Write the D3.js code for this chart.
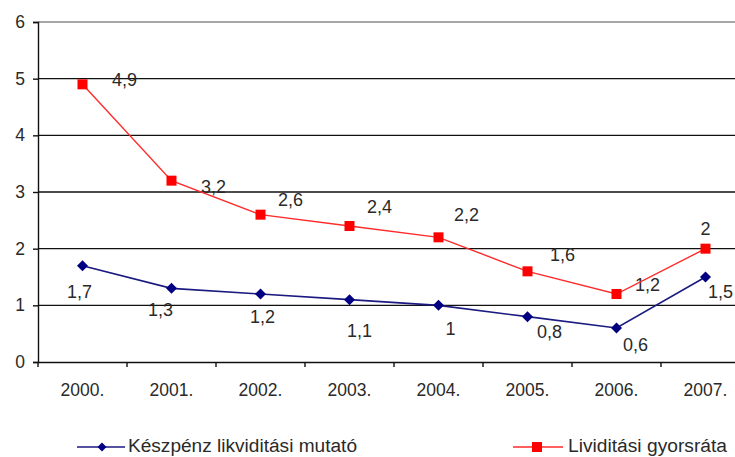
<!DOCTYPE html>
<html><head><meta charset="utf-8">
<script src="https://cdn.jsdelivr.net/npm/d3@7"></script>
<style>body{margin:0;background:#fff}svg{display:block;font-family:"Liberation Sans",Arial,sans-serif}</style>
</head><body>
<svg id="c" width="735" height="457"></svg>
<script>
const years = ["2000.","2001.","2002.","2003.","2004.","2005.","2006.","2007."];
const keszpenz = [1.7,1.3,1.2,1.1,1,0.8,0.6,1.5];
const gyorsrata = [4.9,3.2,2.6,2.4,2.2,1.6,1.2,2];
const yTicks = [0,1,2,3,4,5,6];
const seriesNames = ["Készpénz likviditási mutató","Lividitási gyorsráta"];
// label offsets (px) of the label centre relative to the point, as placed in the original
const blueLabelOff = [[-3,26],[-11,21],[2,23],[10,31],[12,23],[22,15],[19,17],[15,15]];
const redLabelOff = [[42,-5],[42,6],[30,-15],[30,-19],[28,-23],[35,-17],[31,-9],[0,-20]];

const FONT = "Liberation Sans, Arial, sans-serif";
const TXT = "#2a2a2a";
const svg = d3.select("#c");
const x = d3.scaleBand().domain(years).range([38,750]);
const y = d3.scaleLinear().domain([0,6]).range([362,22]);
const fmt = v => String(v).replace(".",",");

// gridlines
svg.append("g").selectAll("line").data(yTicks.filter(t=>t>0)).join("line")
  .attr("x1",38).attr("x2",750).attr("y1",d=>y(d)).attr("y2",d=>y(d))
  .attr("stroke",d=>d===6?"#8a8a8a":"#111").attr("stroke-width",1.4);

// y axis
const ya = svg.append("g").attr("transform","translate(38,0)")
  .call(d3.axisLeft(y).tickValues(yTicks).tickSize(5).tickPadding(8).tickFormat(d=>d));
ya.attr("font-size",null).attr("font-family",null);
ya.select(".domain").attr("stroke","#111").attr("stroke-width",1.4);
ya.selectAll(".tick line").attr("stroke","#111").attr("stroke-width",1.4);
ya.selectAll("text").style("font-size","17.5px").style("font-family",FONT).attr("fill",TXT);

// x axis
const xa = svg.append("g").attr("transform","translate(0,362)")
  .call(d3.axisBottom(x).tickSize(0).tickPadding(22));
xa.attr("font-size",null).attr("font-family",null);
xa.select(".domain").attr("stroke","#111").attr("stroke-width",1.4);
xa.selectAll("text").style("font-size","17.5px").style("font-family",FONT).attr("fill",TXT);
xa.append("g").selectAll("line").data(d3.range(years.length+1)).join("line")
  .attr("x1",i=>38+i*x.bandwidth()).attr("x2",i=>38+i*x.bandwidth())
  .attr("y1",0).attr("y2",5).attr("stroke","#111").attr("stroke-width",1.4);

const cx = d => x(d)+x.bandwidth()/2;
const line = d3.line().x(d=>cx(d[0])).y(d=>y(d[1]));
const bData = years.map((yr,i)=>[yr,keszpenz[i]]);
const rData = years.map((yr,i)=>[yr,gyorsrata[i]]);

// labels (under the lines, as in the original)
svg.append("g").selectAll("text").data(bData).join("text")
  .attr("x",(d,i)=>cx(d[0])+blueLabelOff[i][0]).attr("y",(d,i)=>y(d[1])+blueLabelOff[i][1])
  .attr("dy","0.36em").attr("text-anchor","middle").style("font-size","18px").attr("fill",TXT).text(d=>fmt(d[1]));
svg.append("g").selectAll("text").data(rData).join("text")
  .attr("x",(d,i)=>cx(d[0])+redLabelOff[i][0]).attr("y",(d,i)=>y(d[1])+redLabelOff[i][1])
  .attr("dy","0.36em").attr("text-anchor","middle").style("font-size","18px").attr("fill",TXT).text(d=>fmt(d[1]));

const diamond = (cxp,cyp,r) => `M${cxp},${cyp-r}L${cxp+r},${cyp}L${cxp},${cyp+r}L${cxp-r},${cyp}Z`;

// blue series
svg.append("path").attr("d",line(bData)).attr("fill","none").attr("stroke","#1a1a80").attr("stroke-width",1.6);
svg.append("g").selectAll("path").data(bData).join("path")
  .attr("d",d=>diamond(cx(d[0]),y(d[1]),5.5)).attr("fill","#000080");

// red series
svg.append("path").attr("d",line(rData)).attr("fill","none").attr("stroke","#ff2a2a").attr("stroke-width",1.4);
svg.append("g").selectAll("rect").data(rData).join("rect")
  .attr("x",d=>cx(d[0])-5).attr("y",d=>y(d[1])-5).attr("width",10).attr("height",10)
  .attr("fill","#ff0000");

// legend
const LY = 446;
const lg = svg.append("g");
lg.append("line").attr("x1",77).attr("x2",125).attr("y1",LY+1).attr("y2",LY+1).attr("stroke","#1a1a80").attr("stroke-width",1.6);
lg.append("path").attr("d",diamond(102,LY+1,4.5)).attr("fill","#000080");
lg.append("text").attr("x",128).attr("y",LY).attr("dy","0.36em").style("font-size","18px").attr("fill",TXT)
  .attr("textLength",229).attr("lengthAdjust","spacingAndGlyphs").text(seriesNames[0]);
lg.append("line").attr("x1",513).attr("x2",563).attr("y1",LY+1).attr("y2",LY+1).attr("stroke","#ff2a2a").attr("stroke-width",1.4);
lg.append("rect").attr("x",532).attr("y",LY-4).attr("width",10).attr("height",10).attr("fill","#ff0000");
lg.append("text").attr("x",568).attr("y",LY).attr("dy","0.36em").style("font-size","18px").attr("fill",TXT)
  .attr("textLength",159).attr("lengthAdjust","spacingAndGlyphs").text(seriesNames[1]);
</script>
</body></html>
